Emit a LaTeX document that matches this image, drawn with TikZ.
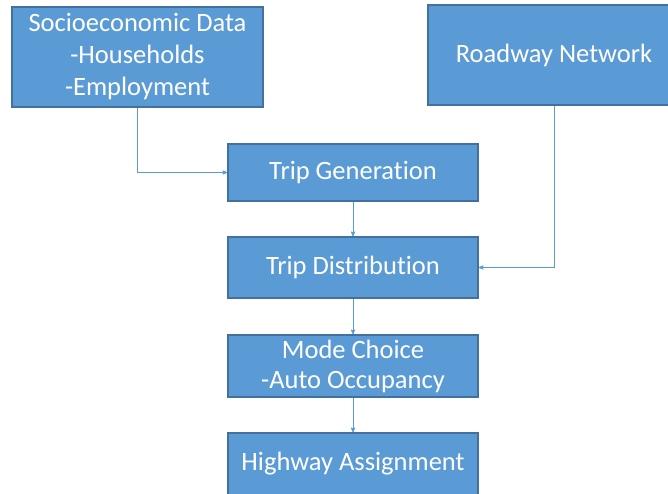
\documentclass[tikz,border=0pt]{standalone}
\usepackage{fontspec}
\setmainfont[Ligatures=NoCommon]{Carlito}
\usetikzlibrary{arrows}
\definecolor{boxblue}{HTML}{5B9BD5}
\definecolor{boxedge}{HTML}{41719C}

\begin{document}
\begin{tikzpicture} [x=1pt, y=1pt,
  box/.style={draw=boxedge, fill=boxblue, line width=1.2pt, text=white, align=center, inner sep=0, font=\fontsize{26.5}{32}\selectfont},
  flow/.style={boxblue, line width=.8pt, ->, >=stealth'}]
\useasboundingbox (0,0) rectangle (668,494);
\clip (0,0) rectangle (668,494);
% inputs
\node[box, minimum width=251, minimum height=100] (socio) at (137.5,437) {Socioeconomic Data\\-Households\\-Employment};
\node[box, minimum width=252, minimum height=100] (road) at (554,439) {Roadway Network};
% model steps
\node[box, minimum width=250, minimum height=57] (gen) at (353,321.5) {Trip Generation};
\node[box, minimum width=250, minimum height=61] (dist) at (353,226.5) {Trip Distribution};
\node[box, minimum width=250, minimum height=62, font=\fontsize{26.5}{30}\selectfont] (mode) at (353,128) {Mode Choice\\-Auto Occupancy};
\node[box, minimum width=250, minimum height=62] (high) at (353,30) {Highway Assignment};
\draw[flow] (socio.south) |- (gen.west);
\draw[flow] (road.south) |- (dist.east);
\draw[flow] (gen) -- (dist);
\draw[flow] (dist) -- (mode);
\draw[flow] (mode) -- (high);
\end{tikzpicture}
\end{document}
